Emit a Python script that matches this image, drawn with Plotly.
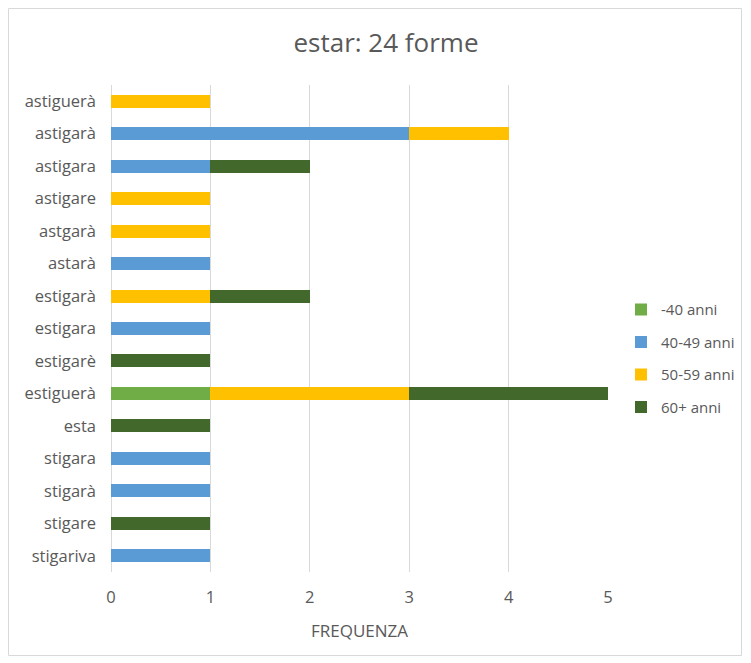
import plotly.graph_objects as go

forms = ["astiguerà", "astigarà", "astigara", "astigare", "astgarà", "astarà",
         "estigarà", "estigara", "estigarè", "estiguerà", "esta", "stigara",
         "stigarà", "stigare", "stigariva"]
under40 = [0, 0, 0, 0, 0, 0, 0, 0, 0, 1, 0, 0, 0, 0, 0]
age40_49 = [0, 3, 1, 0, 0, 1, 0, 1, 0, 0, 0, 1, 1, 0, 1]
age50_59 = [1, 1, 0, 1, 1, 0, 1, 0, 0, 2, 0, 0, 0, 0, 0]
age60plus = [0, 0, 1, 0, 0, 0, 1, 0, 1, 2, 1, 0, 0, 1, 0]

series = [
    ("-40 anni", under40, "#70AD47"),
    ("40-49 anni", age40_49, "#5B9BD5"),
    ("50-59 anni", age50_59, "#FFC000"),
    ("60+ anni", age60plus, "#43682B"),
]

fig = go.Figure()
for name, vals, color in series:
    fig.add_trace(go.Bar(
        y=forms, x=[v if v else None for v in vals], name=name, orientation="h",
        marker=dict(color=color, line=dict(width=0)),
        legendgroup=name,
    ))

W, H = 734, 648
L, R, T, B = 103, 134, 77, 84
pw, ph = W - L - R, H - T - B

fig.update_layout(
    barmode="stack",
    bargap=0.6,
    width=W, height=H,
    paper_bgcolor="white", plot_bgcolor="white",
    margin=dict(l=L, r=R, t=T, b=B, autoexpand=False),
    font=dict(family="Open Sans, Liberation Sans, sans-serif", color="#595959", size=16),
    title=dict(text="estar: 24 forme", x=(378 - L) / pw, xref="paper", xanchor="center",
               y=1 - 35 / H, yanchor="middle",
               font=dict(size=26, color="#595959")),
    xaxis=dict(range=[0, 5], dtick=1, showgrid=True, gridcolor="#D9D9D9", gridwidth=1,
               zeroline=True, zerolinecolor="#D9D9D9", zerolinewidth=1,
               showline=False, ticks="", ticklabelstandoff=13,
               tickfont=dict(size=16.5, color="#595959"),
               title=dict(text="FREQUENZA", font=dict(size=17, color="#595959"), standoff=18),
               fixedrange=True),
    yaxis=dict(categoryorder="array", categoryarray=forms, autorange="reversed",
               showgrid=False, ticks="", ticklabelstandoff=14,
               tickfont=dict(size=16.5, color="#595959")),
    legend=dict(x=(613 - L) / pw, xanchor="left", y=0.439, yanchor="middle",
                traceorder="grouped", tracegroupgap=10, bgcolor="rgba(0,0,0,0)",
                font=dict(size=15, color="#595959"), itemwidth=30),
    shapes=[dict(type="rect", xref="paper", yref="paper",
                 x0=-(L - 0.5) / pw, x1=(pw + R - 0.5) / pw,
                 y0=-(B - 0.5) / ph, y1=(ph + T - 0.5) / ph,
                 line=dict(color="#D9D9D9", width=1), fillcolor="rgba(0,0,0,0)",
                 layer="below")],
)

fig.write_html("out.html")
